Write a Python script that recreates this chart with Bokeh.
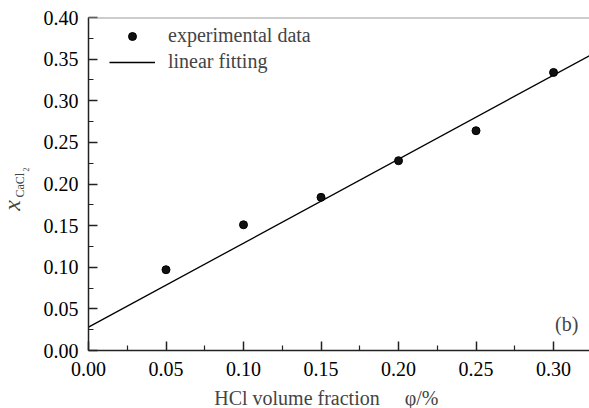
import math
from bokeh.plotting import figure
from bokeh.models import (Range1d, FixedTicker, NumeralTickFormatter, Label, Span,
                          Legend, LegendItem, ColumnDataSource)
from bokeh.embed import file_html
from bokeh.resources import INLINE

# ---- data ----
phi = [0.05, 0.10, 0.15, 0.20, 0.25, 0.30]
x_cacl2 = [0.097, 0.151, 0.184, 0.228, 0.264, 0.334]
fit_phi = [0.0, 0.325]
fit_x = [0.028, 0.356]
x_ticks = [0.00, 0.05, 0.10, 0.15, 0.20, 0.25, 0.30]
x_minor = [0.025, 0.075, 0.125, 0.175, 0.225, 0.275, 0.325]
y_ticks = [0.00, 0.05, 0.10, 0.15, 0.20, 0.25, 0.30, 0.35, 0.40]
y_minor = [0.025, 0.075, 0.125, 0.175, 0.225, 0.275, 0.325, 0.375]
x_title = "HCl volume fraction\u00a0\u00a0\u00a0\u00a0\u00a0φ/%"
legend_labels = ["experimental data", "linear fitting"]
panel_tag = "(b)"

FONT = "Liberation Serif"

p = figure(width=589, height=408, output_backend="svg", toolbar_location=None,
           x_range=Range1d(0.0, 0.3232), y_range=Range1d(0.0, 0.40),
           min_border_left=87, min_border_top=17, min_border_right=0, min_border_bottom=58)
p.outline_line_color = None
p.xgrid.visible = False
p.ygrid.visible = False
p.background_fill_color = "white"
p.border_fill_color = "white"

for ax, ticks, minor in ((p.xaxis[0], x_ticks, x_minor), (p.yaxis[0], y_ticks, y_minor)):
    ax.ticker = FixedTicker(ticks=ticks, minor_ticks=minor)
    ax.formatter = NumeralTickFormatter(format="0.00")
    ax.axis_line_color = "#222222"
    ax.axis_line_width = 1.5
    ax.major_tick_line_color = "#222222"
    ax.major_tick_line_width = 1.5
    ax.minor_tick_line_color = "#222222"
    ax.minor_tick_line_width = 1.2
    ax.major_tick_in = 9
    ax.major_tick_out = 0
    ax.minor_tick_in = 5
    ax.minor_tick_out = 0
    ax.major_label_text_font = FONT
    ax.major_label_text_font_size = "20px"
    ax.major_label_text_color = "black"
    ax.axis_label = None
p.yaxis[0].major_label_standoff = 10
p.xaxis[0].major_label_standoff = 11

# top frame line (gray)
p.add_layout(Span(location=0.40, dimension="width", line_color="#9a9a9a", line_width=2))

src = ColumnDataSource(dict(phi=phi, x=x_cacl2))
ln = p.line(fit_phi, fit_x, line_color="black", line_width=1.3)
pts = p.scatter("phi", "x", source=src, size=8, fill_color="#111111", line_color="#000000")

legend = Legend(items=[LegendItem(label=legend_labels[0], renderers=[pts]),
                       LegendItem(label=legend_labels[1], renderers=[ln])],
                location=(21, 277), border_line_color=None, background_fill_alpha=0,
                padding=0, margin=0, spacing=3, glyph_width=46, glyph_height=20,
                label_height=20, label_standoff=13,
                label_text_font=FONT, label_text_font_size="20px")
p.add_layout(legend)

# panel tag
p.add_layout(Label(x=0.301, y=0.0324, text=panel_tag, text_font=FONT, text_font_size="20px",
                   text_baseline="middle", text_align="left"))

# axis titles: labels kept in side panels (within their border space) so they are not clipped
p.add_layout(Label(x=0.0811, y=-0.05646, text=x_title, text_font=FONT,
                   text_font_size="20px", text_baseline="middle", text_align="left"), "below")

p.add_layout(Label(x=-0.04906, y=0.168, text="x", text_font=FONT, text_font_style="italic",
                   text_font_size="24px", angle=math.pi / 2, text_baseline="middle",
                   text_align="left"), "left")
p.add_layout(Label(x=-0.04449, y=0.1838, text="CaCl", text_font=FONT, text_font_size="12px",
                   angle=math.pi / 2, text_baseline="middle", text_align="left"), "left")
p.add_layout(Label(x=-0.04055, y=0.215, text="2", text_font=FONT, text_font_size="8px",
                   angle=math.pi / 2, text_baseline="middle", text_align="left"), "above")

open("out.html", "w").write(file_html(p, INLINE))
